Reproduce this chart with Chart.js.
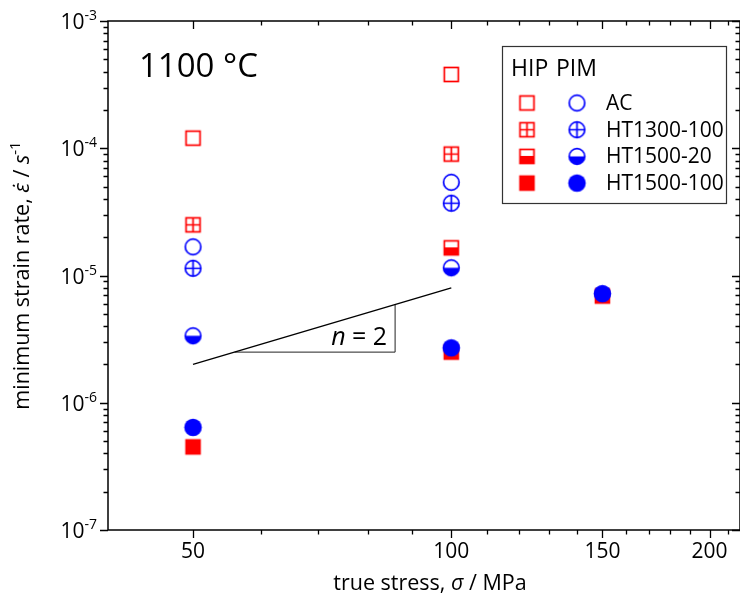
<!DOCTYPE html>
<html>
<head>
<meta charset="utf-8">
<script src="https://cdn.jsdelivr.net/npm/chart.js@4.4.0/dist/chart.umd.min.js"></script>
<style>
  html, body { margin: 0; padding: 0; background: #fff; overflow: hidden; }
  #wrap { width: 750px; height: 601px; }
</style>
</head>
<body>
<div id="wrap"><canvas id="myChart" width="750" height="601"></canvas></div>
<script>
// true stress (MPa) and minimum strain rate (1/s)
const hipAcX = [50, 100];
const hipAcY = [1.2e-4, 3.8e-4];
const hipHt1300X = [50, 100];
const hipHt1300Y = [2.5e-5, 9.0e-5];
const hipHt1500s20X = [100];
const hipHt1500s20Y = [1.65e-5];
const hipHt1500s100X = [50, 100, 150];
const hipHt1500s100Y = [4.5e-7, 2.5e-6, 6.9e-6];

const pimAcX = [50, 100];
const pimAcY = [1.68e-5, 5.4e-5];
const pimHt1300X = [50, 100];
const pimHt1300Y = [1.14e-5, 3.7e-5];
const pimHt1500s20X = [50, 100];
const pimHt1500s20Y = [3.36e-6, 1.15e-5];
const pimHt1500s100X = [50, 100, 150];
const pimHt1500s100Y = [6.4e-7, 2.7e-6, 7.2e-6];

// n = 2 slope guide
const slopeX = [50, 100];
const slopeY = [2e-6, 8e-6];
const triX = [55.9, 86, 86];
const triY = [2.5e-6, 2.5e-6, 5.92e-6];

// axes
const xMajor = [50, 100, 150, 200];
const xMinor = [60, 70, 80, 90, 110, 120, 130, 140, 160, 170, 180, 190, 210];
const yMajor = [1e-7, 1e-6, 1e-5, 1e-4, 1e-3];
const yExp = ['-7', '-6', '-5', '-4', '-3'];
const legendNames = ['AC', 'HT1300-100', 'HT1500-20', 'HT1500-100'];

const FONT = '"Open Sans", "DejaVu Sans", sans-serif';
const RED = '#ff0000';
const BLUE = '#0000ff';

const pts = (xs, ys) => xs.map((x, i) => ({ x: x, y: ys[i] }));

// marker sprites
function marker(shape, fill, color) {
  const c = document.createElement('canvas');
  c.width = 21; c.height = 21;
  const g = c.getContext('2d');
  const m = 10.5;
  g.strokeStyle = color; g.fillStyle = color; g.lineWidth = 1.7;
  if (shape === 'sq') {
    const h = 7;
    if (fill === 'full') {
      g.fillRect(m - h - 0.8, m - h - 0.8, 2 * h + 1.6, 2 * h + 1.6);
    } else {
      if (fill === 'half') g.fillRect(m - h, m - 0.5, 2 * h, h + 0.5);
      g.strokeRect(m - h, m - h, 2 * h, 2 * h);
      if (fill === 'cross') {
        g.beginPath();
        g.moveTo(m, m - h); g.lineTo(m, m + h);
        g.moveTo(m - h, m); g.lineTo(m + h, m);
        g.stroke();
      }
    }
  } else {
    const r = 7.8;
    if (fill === 'full') {
      g.beginPath(); g.arc(m, m, r + 1, 0, Math.PI * 2); g.fill();
    } else {
      if (fill === 'half') {
        g.beginPath(); g.arc(m, m, r, 0, Math.PI); g.closePath(); g.fill();
      }
      g.beginPath(); g.arc(m, m, r, 0, Math.PI * 2); g.stroke();
      if (fill === 'cross') {
        g.beginPath();
        g.moveTo(m, m - r); g.lineTo(m, m + r);
        g.moveTo(m - r, m); g.lineTo(m + r, m);
        g.stroke();
      }
    }
  }
  return c;
}

const fills = ['none', 'cross', 'half', 'full'];
const sqIcons = fills.map(f => marker('sq', f, RED));
const ciIcons = fills.map(f => marker('ci', f, BLUE));

function series(label, xs, ys, icon, order) {
  return {
    label: label,
    data: pts(xs, ys),
    pointStyle: icon,
    pointRadius: 9,
    order: order
  };
}

const datasets = [
  series('PIM AC', pimAcX, pimAcY, ciIcons[0], 1),
  series('PIM HT1300-100', pimHt1300X, pimHt1300Y, ciIcons[1], 1),
  series('PIM HT1500-20', pimHt1500s20X, pimHt1500s20Y, ciIcons[2], 1),
  series('PIM HT1500-100', pimHt1500s100X, pimHt1500s100Y, ciIcons[3], 1),
  series('HIP AC', hipAcX, hipAcY, sqIcons[0], 2),
  series('HIP HT1300-100', hipHt1300X, hipHt1300Y, sqIcons[1], 2),
  series('HIP HT1500-20', hipHt1500s20X, hipHt1500s20Y, sqIcons[2], 2),
  series('HIP HT1500-100', hipHt1500s100X, hipHt1500s100Y, sqIcons[3], 2),
  {
    type: 'line', label: 'slope', data: pts(slopeX, slopeY), showLine: true,
    borderColor: '#000', borderWidth: 1.4, pointRadius: 0, fill: false, order: 3
  },
  {
    type: 'line', label: 'triangle', data: pts(triX, triY), showLine: true,
    borderColor: '#222', borderWidth: 1, pointRadius: 0, fill: false, order: 3
  }
];

// text with italic / superscript pieces
function richText(g, segs, x, y, size, align) {
  const fontOf = s => (s.it ? 'italic ' : '') + (s.sup ? Math.round(size * 0.68) : size) + 'px ' + FONT;
  let total = 0;
  segs.forEach(s => { g.font = fontOf(s); total += g.measureText(s.t).width; });
  let cx = align === 'center' ? x - total / 2 : (align === 'right' ? x - total : x);
  g.textAlign = 'left';
  segs.forEach(s => {
    g.font = fontOf(s);
    g.fillText(s.t, cx, s.sup ? y - size * 0.42 : y);
    cx += g.measureText(s.t).width;
  });
}

const frame = {
  id: 'frame',
  afterDraw(chart) {
    const g = chart.ctx;
    const a = chart.chartArea;
    const sx = chart.scales.x, sy = chart.scales.y;
    g.save();
    g.strokeStyle = '#000'; g.fillStyle = '#000'; g.lineWidth = 1.5;
    g.strokeRect(a.left, a.top, a.right - a.left, a.bottom - a.top);

    g.lineWidth = 1.3;
    g.beginPath();
    const xt = (v, len) => {
      const p = Math.round(sx.getPixelForValue(v)) + 0.5;
      g.moveTo(p, a.bottom); g.lineTo(p, a.bottom + len);
      g.moveTo(p, a.top); g.lineTo(p, a.top + len);
    };
    xMajor.forEach(v => xt(v, 8));
    xMinor.forEach(v => xt(v, 4.5));
    const yt = (v, len) => {
      const p = Math.round(sy.getPixelForValue(v)) + 0.5;
      g.moveTo(a.left, p); g.lineTo(a.left - len, p);
      g.moveTo(a.right, p); g.lineTo(a.right - len, p);
    };
    yMajor.forEach(v => {
      yt(v, 8);
      if (v < 1e-3) for (let k = 2; k <= 9; k++) yt(v * k, 4.5);
    });
    g.stroke();

    // tick labels
    g.textBaseline = 'alphabetic';
    g.font = '21px ' + FONT; g.textAlign = 'center';
    xMajor.forEach(v => g.fillText(String(v), sx.getPixelForValue(v), a.bottom + 28));
    yMajor.forEach((v, i) => {
      const p = sy.getPixelForValue(v);
      richText(g, [{ t: '10' }, { t: yExp[i], sup: true }], a.left - 11, p + 8, 21, 'right');
    });

    // axis titles
    richText(g, [{ t: 'true stress, ' }, { t: 'σ', it: true }, { t: ' / MPa' }],
      (a.left + a.right) / 2 + 6, a.bottom + 60, 21.5, 'center');
    g.save();
    g.translate(29, (a.top + a.bottom) / 2);
    g.rotate(-Math.PI / 2);
    richText(g, [{ t: 'minimum strain rate, ' }, { t: 'ε\u0307', it: true }, { t: ' / ' },
      { t: 's', it: true }, { t: '-1', sup: true }], 0, 0, 21.5, 'center');
    g.restore();

    // temperature label
    g.font = '33px ' + FONT; g.textAlign = 'left';
    g.fillText('1100 °C', a.left + 31, a.top + 56);

    // n = 2
    const tx = sx.getPixelForValue(triX[1]);
    const ty = sy.getPixelForValue(triY[1]);
    richText(g, [{ t: 'n', it: true }, { t: ' = 2' }], tx - 8, ty - 7, 25, 'right');

    // legend
    const lx = 502, ly = 46, lw = 224, lh = 157;
    g.lineWidth = 1.2; g.strokeStyle = '#333';
    g.fillStyle = '#fff';
    g.fillRect(lx, ly, lw, lh);
    g.strokeRect(lx + 0.5, ly + 0.5, lw, lh);
    g.fillStyle = '#000';
    g.font = '23px ' + FONT; g.textAlign = 'left';
    g.fillText('HIP', lx + 9, ly + 30);
    g.fillText('PIM', lx + 54, ly + 30);
    g.font = '21px ' + FONT;
    legendNames.forEach((name, i) => {
      const cy = ly + 57 + i * 26.7;
      g.drawImage(sqIcons[i], lx + 25 - 10.5, cy - 10.5);
      g.drawImage(ciIcons[i], lx + 75 - 10.5, cy - 10.5);
      g.fillText(name, lx + 104, cy + 7);
    });
    g.restore();
  }
};

const ctx = document.getElementById('myChart').getContext('2d');
const myChart = new Chart(ctx, {
  type: 'scatter',
  data: { datasets: datasets },
  options: {
    responsive: false,
    animation: false,
    events: [],
    layout: { padding: { left: 108, top: 21, right: 8, bottom: 71 } },
    plugins: {
      legend: { display: false },
      tooltip: { enabled: false }
    },
    scales: {
      x: { type: 'logarithmic', min: 39.8, max: 217, display: false },
      y: { type: 'logarithmic', min: 1e-7, max: 1e-3, display: false }
    }
  },
  plugins: [frame]
});
</script>
</body>
</html>
